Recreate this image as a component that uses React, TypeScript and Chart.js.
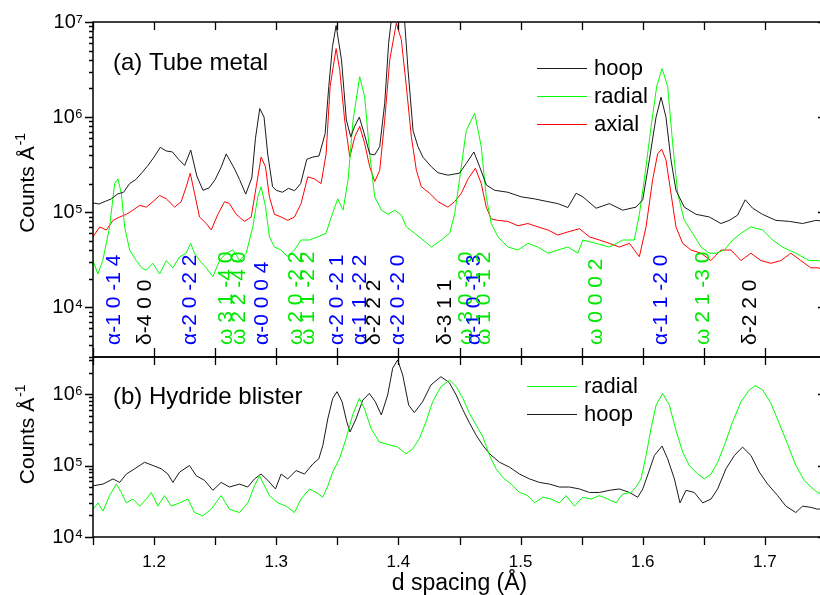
import React, { useEffect, useRef } from 'react';
import { Chart, registerables } from 'chart.js';

Chart.register(...registerables);

const FONT = '"Liberation Sans", Arial, Helvetica, sans-serif';
const C_HOOP = '#1a1a1a';
const C_RADIAL = '#00ff00';
const C_AXIAL = '#ff0000';

// ---------- (a) Tube metal ----------
const hoopA_d = [1.15,1.155,1.16,1.165,1.17,1.175,1.18,1.185,1.19,1.195,1.2,1.205,1.21,1.215,1.22,1.225,1.23,1.235,1.24,1.245,1.25,1.255,1.259,1.265,1.27,1.275,1.28,1.283,1.2865,1.29,1.293,1.297,1.3,1.305,1.31,1.315,1.32,1.325,1.33,1.335,1.34,1.343,1.346,1.349,1.3534,1.3574,1.361,1.364,1.368,1.372,1.3765,1.3806,1.3847,1.3888,1.392,1.3942,1.399,1.405,1.4079,1.412,1.416,1.42,1.427,1.4324,1.4405,1.45,1.4555,1.4618,1.4665,1.472,1.4787,1.4896,1.5005,1.5114,1.5224,1.5305,1.5387,1.5455,1.551,1.5618,1.5727,1.5836,1.5945,1.6,1.6054,1.6109,1.615,1.619,1.6231,1.6272,1.634,1.6436,1.6545,1.664,1.6708,1.6776,1.6839,1.69,1.698,1.709,1.72,1.7308,1.7417,1.75];
const hoopA_c = [1.25e5,1.22e5,1.3e5,1.38e5,1.55e5,1.62e5,2.0e5,2.2e5,2.6e5,3.1e5,3.8e5,4.8e5,4.4e5,4.3e5,3.6e5,3.1e5,4.5e5,2.4e5,1.7e5,1.8e5,2.2e5,3.0e5,4.1e5,3.0e5,2.2e5,1.55e5,2.3e5,6.0e5,1.23e6,1.0e6,4.1e5,1.85e5,1.7e5,1.62e5,1.78e5,1.68e5,2.0e5,3.6e5,3.8e5,3.9e5,6.7e5,2.1e6,5.5e6,9.2e6,4.0e6,9.3e5,6.2e5,7.9e5,1.0e6,6.7e5,4.1e5,4.0e5,4.9e5,1.4e6,6.0e6,1.05e7,2.0e7,1.05e7,3.1e6,7.2e5,4.9e5,3.8e5,3.0e5,2.6e5,2.45e5,2.57e5,3.25e5,4.3e5,3.0e5,1.93e5,1.7e5,1.62e5,1.45e5,1.38e5,1.29e5,1.23e5,1.12e5,1.58e5,1.45e5,1.1e5,1.23e5,1.05e5,1.13e5,1.35e5,3.55e5,1.0e6,1.62e6,1.0e6,3.55e5,1.7e5,1.13e5,9.5e4,8.9e4,7.6e4,8.2e4,9.3e4,1.35e5,1.1e5,9.5e4,8.2e4,8.0e4,7.6e4,8.2e4,8.0e4];

const radialA_d = [1.15,1.154,1.158,1.1636,1.1677,1.1704,1.1732,1.1759,1.18,1.1854,1.19,1.1936,1.199,1.2045,1.21,1.2154,1.2209,1.2263,1.2299,1.2331,1.2372,1.2427,1.2481,1.2536,1.259,1.2645,1.27,1.2754,1.2808,1.2849,1.2876,1.2912,1.2944,1.2985,1.304,1.3094,1.3149,1.3203,1.3272,1.334,1.3408,1.3441,1.3503,1.3547,1.3588,1.3629,1.3683,1.3724,1.3765,1.3806,1.3861,1.3915,1.397,1.4024,1.4065,1.4133,1.4201,1.427,1.4351,1.4419,1.446,1.45,1.4555,1.4624,1.4678,1.4719,1.476,1.4815,1.4896,1.4978,1.506,1.5142,1.5224,1.5305,1.5387,1.5469,1.5509,1.5618,1.5727,1.5836,1.5931,1.5972,1.6013,1.6068,1.6114,1.6158,1.6204,1.6245,1.6286,1.634,1.6408,1.6477,1.6545,1.66,1.6667,1.6736,1.6804,1.6885,1.6981,1.7063,1.7144,1.7253,1.7362,1.7439,1.75];
const radialA_c = [3.1e4,2.24e4,3.1e4,7.0e4,2.0e5,2.24e5,1.58e5,7.0e4,4.0e4,3.1e4,2.6e4,2.45e4,2.9e4,2.24e4,3.1e4,2.6e4,3.4e4,3.7e4,4.7e4,3.7e4,3.1e4,2.6e4,2.1e4,3.1e4,3.7e4,4.0e4,3.1e4,3.7e4,7.0e4,1.45e5,1.85e5,1.15e5,5.5e4,4.3e4,4.0e4,3.4e4,4.0e4,5.1e4,5.1e4,5.5e4,6.0e4,8.2e4,1.38e5,1.05e5,2.2e5,9.3e5,2.66e6,1.62e6,4.1e5,1.45e5,1.05e5,9.5e4,1.05e5,9.3e4,7.0e4,6.0e4,5.1e4,4.3e4,5.1e4,6.0e4,9.5e4,2.2e5,7.2e5,1.1e6,4.9e5,1.45e5,7.6e4,5.5e4,4.3e4,4.0e4,4.7e4,4.3e4,3.7e4,4.0e4,4.3e4,3.7e4,5.1e4,4.7e4,4.3e4,5.1e4,5.1e4,9.5e4,2.2e5,7.9e5,2.1e6,3.24e6,2.1e6,5.25e5,1.58e5,8.2e4,6.0e4,4.3e4,3.7e4,3.7e4,4.0e4,5.1e4,6.0e4,7.0e4,6.5e4,5.1e4,4.3e4,3.7e4,3.1e4,3.1e4,2.9e4];

const axialA_d = [1.15,1.1555,1.1609,1.1664,1.1718,1.1773,1.1827,1.1882,1.1936,1.1991,1.2045,1.21,1.2168,1.2222,1.2263,1.2296,1.2331,1.2372,1.2427,1.2468,1.2522,1.2577,1.2617,1.2672,1.274,1.2795,1.2836,1.2876,1.2912,1.2944,1.2985,1.304,1.3094,1.3149,1.3203,1.3258,1.3312,1.3367,1.3408,1.3441,1.349,1.352,1.356,1.3602,1.3643,1.3683,1.3724,1.3765,1.3806,1.3847,1.3888,1.3929,1.3983,1.4024,1.4065,1.4106,1.4147,1.4188,1.4256,1.4324,1.4405,1.446,1.4515,1.457,1.463,1.4678,1.4719,1.476,1.4815,1.4896,1.4978,1.506,1.5142,1.5224,1.5305,1.5387,1.5482,1.5564,1.5645,1.5727,1.5809,1.5891,1.5972,1.6027,1.6081,1.6122,1.6155,1.619,1.6231,1.6272,1.6327,1.6395,1.6477,1.6558,1.664,1.6722,1.6804,1.6885,1.6967,1.7049,1.7131,1.7212,1.7294,1.7376,1.7439,1.75];
const axialA_c = [5.5e4,7.0e4,6.5e4,8.2e4,8.9e4,9.5e4,1.05e5,1.18e5,1.13e5,1.29e5,1.5e5,1.38e5,1.13e5,1.29e5,1.85e5,2.57e5,1.58e5,8.9e4,7.6e4,6.5e4,9.5e4,1.29e5,1.23e5,9.5e4,8.0e4,8.9e4,1.85e5,3.8e5,3.0e5,1.45e5,9.5e4,8.9e4,8.2e4,8.9e4,1.23e5,2.35e5,2.24e5,2.0e5,4.1e5,2.1e6,5.25e6,3.1e6,9.3e5,3.8e5,6.2e5,8.0e5,5.25e5,3.0e5,2.1e5,2.75e5,9.3e5,4.0e6,9.7e6,6.5e6,2.1e6,6.2e5,2.75e5,1.85e5,1.58e5,1.29e5,1.13e5,1.29e5,1.58e5,2.24e5,2.9e5,2.0e5,1.13e5,8.5e4,8.2e4,8.0e4,7.2e4,7.6e4,7.0e4,6.5e4,5.75e4,6.2e4,6.7e4,5.5e4,5.1e4,4.7e4,4.3e4,4.7e4,3.4e4,7.0e4,2.2e5,4.1e5,4.6e5,3.55e5,1.58e5,7.0e4,4.7e4,4.0e4,3.7e4,3.1e4,4.0e4,4.0e4,3.1e4,3.7e4,3.1e4,2.9e4,3.1e4,3.7e4,3.1e4,2.6e4,2.6e4,2.4e4];

// ---------- (b) Hydride blister ----------
const radialB_d = [1.15,1.1541,1.1582,1.1636,1.1691,1.1732,1.1773,1.1827,1.1882,1.1936,1.1977,1.2031,1.2086,1.214,1.2209,1.2277,1.2331,1.2399,1.2468,1.2549,1.2617,1.2699,1.2767,1.2822,1.2863,1.2904,1.2944,1.3013,1.3081,1.3149,1.3203,1.3272,1.3326,1.3381,1.3422,1.3462,1.3517,1.3571,1.3626,1.368,1.3721,1.3776,1.3844,1.3926,1.3994,1.4062,1.4117,1.4171,1.4226,1.428,1.4348,1.4419,1.4473,1.4528,1.4583,1.4637,1.4692,1.4746,1.48,1.4855,1.4923,1.4991,1.5059,1.5114,1.5182,1.525,1.5318,1.5373,1.5441,1.5509,1.5577,1.5645,1.5714,1.5782,1.5836,1.5904,1.5945,1.5986,1.6027,1.6068,1.6109,1.6163,1.6218,1.6272,1.6327,1.6381,1.645,1.6504,1.6559,1.6613,1.6668,1.6736,1.6804,1.6872,1.6921,1.6981,1.7049,1.7117,1.7185,1.7253,1.7322,1.7376,1.743,1.75];
const radialB_c = [2.45e4,3.0e4,2.3e4,3.8e4,5.5e4,4.2e4,3.0e4,3.4e4,2.7e4,3.4e4,4.2e4,2.7e4,3.8e4,2.7e4,3.0e4,3.4e4,2.2e4,1.98e4,2.45e4,3.8e4,2.45e4,2.2e4,3.0e4,5.2e4,7.2e4,5.2e4,3.8e4,3.0e4,2.7e4,2.2e4,3.4e4,4.7e4,4.2e4,3.6e4,5.2e4,8.1e4,1.24e5,2.37e5,5.1e5,8.7e5,6.3e5,3.3e5,2.13e5,1.95e5,1.81e5,1.46e5,1.71e5,2.37e5,4.1e5,7.8e5,1.27e6,1.57e6,1.27e6,8.7e5,5.3e5,3.66e5,2.5e5,1.38e5,9.0e4,6.8e4,5.5e4,4.2e4,3.8e4,3.0e4,3.6e4,3.4e4,3.0e4,3.8e4,2.7e4,3.6e4,3.4e4,3.8e4,3.4e4,3.0e4,4.0e4,4.2e4,5.0e4,6.5e4,1.38e5,3.3e5,7.0e5,1.02e6,7.0e5,3.1e5,1.54e5,1.0e5,7.6e4,6.5e4,7.6e4,1.11e5,1.91e5,4.1e5,7.8e5,1.14e6,1.31e6,1.14e6,7.4e5,3.9e5,2.0e5,1.0e5,6.2e4,5.0e4,4.2e4,3.8e4];

const hoopB_d = [1.15,1.1582,1.1664,1.1718,1.1773,1.1841,1.1922,1.1991,1.2059,1.2113,1.2154,1.2209,1.229,1.2345,1.2413,1.2481,1.2549,1.2617,1.2699,1.2767,1.2822,1.2876,1.2931,1.2994,1.304,1.3094,1.3163,1.3231,1.3299,1.3348,1.3381,1.3422,1.3462,1.3498,1.3539,1.3577,1.3604,1.3653,1.3708,1.3762,1.3811,1.386,1.3912,1.3953,1.3994,1.4035,1.4084,1.413,1.4198,1.4266,1.4348,1.4416,1.4473,1.4528,1.4583,1.4637,1.4692,1.4746,1.4828,1.4909,1.4991,1.5073,1.5155,1.5237,1.5318,1.54,1.5482,1.5564,1.5645,1.5727,1.5809,1.5891,1.5959,1.6,1.6049,1.6095,1.6158,1.6204,1.6259,1.6305,1.6354,1.6422,1.6491,1.6559,1.6613,1.6681,1.675,1.6817,1.6886,1.6954,1.7022,1.7104,1.7172,1.7253,1.7308,1.7376,1.743,1.75];
const hoopB_c = [5.2e4,5.5e4,6.5e4,5.8e4,7.6e4,9.0e4,1.11e5,1.0e5,9.0e4,7.6e4,5.8e4,8.1e4,1.0e5,7.2e4,6.2e4,4.5e4,5.8e4,5.0e4,5.5e4,5.0e4,6.5e4,7.6e4,6.2e4,4.7e4,7.6e4,6.5e4,8.5e4,7.6e4,1.05e5,1.24e5,1.9e5,4.5e5,8.7e5,1.08e6,7.8e5,4.1e5,2.95e5,4.5e5,8.2e5,1.02e6,7.8e5,5.1e5,9.7e5,2.3e6,3.0e6,1.85e6,7.0e5,5.5e5,7.8e5,1.34e6,1.75e6,1.45e6,9.7e5,6.0e5,3.9e5,2.65e5,1.9e5,1.46e5,1.11e5,9.5e4,7.6e4,6.5e4,5.8e4,5.5e4,5.0e4,5.0e4,4.7e4,4.2e4,4.2e4,4.5e4,4.7e4,4.2e4,3.6e4,4.7e4,8.1e4,1.38e5,1.87e5,1.24e5,6.5e4,3.0e4,4.5e4,4.2e4,3.0e4,3.4e4,4.7e4,9.0e4,1.38e5,1.81e5,1.38e5,8.1e4,5.5e4,3.8e4,2.7e4,2.2e4,2.7e4,2.6e4,2.45e4,2.5e4];

// ---------- reflection labels (panel a) ----------
const reflLabels = ['α-1 0 -1 4','δ-4 0 0','α-2 0 -2 2','ω 3 1 -4 0','ω 2 2 -4 0','α-0 0 0 4','ω 2 0 -2 2','ω 1 1 -2 2','α-2 0 -2 1','α-1 1 -2 2','δ-2 2 2','α-2 0 -2 0','δ-3 1 1','ω 3 0 -3 0','α-1 0 -1 3','ω 1 0 -1 2','ω 0 0 0 2','α-1 1 -2 0','ω 2 1 -3 0','δ-2 2 0'];
const reflD = [1.1677,1.1928,1.2296,1.259,1.27,1.2882,1.3163,1.3258,1.3503,1.3689,1.38,1.4002,1.4384,1.4555,1.4623,1.4705,1.5619,1.615,1.6496,1.6878];

const legendA = ['hoop','radial','axial'];
const legendB = ['radial','hoop'];

const SUP: Record<string, string> = { '0':'⁰','1':'¹','2':'²','3':'³','4':'⁴','5':'⁵','6':'⁶','7':'⁷','8':'⁸','9':'⁹','-':'⁻' };
function logLabel(v: number): string {
  const e = Math.log10(v);
  const r = Math.round(e);
  if (Math.abs(e - r) < 1e-6) return '10' + String(r).split('').map((c) => SUP[c]).join('');
  return '';
}

function phaseColor(t: string): string {
  if (t.startsWith('α')) return '#0000ff';
  if (t.startsWith('ω')) return '#00e800';
  return '#000000';
}
function seriesColor(name: string): string {
  return name === 'hoop' ? C_HOOP : name === 'radial' ? C_RADIAL : C_AXIAL;
}

function toPts(d: number[], c: number[]) {
  return d.map((x, i) => ({ x, y: c[i] }));
}
function ds(label: string, d: number[], c: number[]) {
  return {
    label,
    data: toPts(d, c),
    borderColor: seriesColor(label),
    borderWidth: 1,
    pointRadius: 0,
    fill: false,
    tension: 0,
  };
}

const overlayPlugin = {
  id: 'overlay',
  afterDraw(chart: any, _args: any, o: any) {
    const { ctx, chartArea: a } = chart;
    const xs = chart.scales.x;
    const ys = chart.scales.y;
    ctx.save();
    ctx.strokeStyle = '#000';
    ctx.lineWidth = 1.5;
    ctx.strokeRect(a.left, a.top, a.right - a.left, a.bottom - a.top);
    ctx.lineWidth = 1.3;
    ctx.beginPath();
    for (let i = 0; i < 40; i++) {
      const v = xs.min + i * 0.05;
      if (v > xs.max + 1e-9) break;
      const px = Math.round(xs.getPixelForValue(v)) + 0.5;
      ctx.moveTo(px, a.top);
      ctx.lineTo(px, a.top + 8);
      if (o.bottomOut) {
        ctx.moveTo(px, a.bottom);
        ctx.lineTo(px, a.bottom + 8);
      } else {
        ctx.moveTo(px, a.bottom);
        ctx.lineTo(px, a.bottom - 9);
      }
    }
    const e0 = Math.floor(Math.log10(ys.min));
    const e1 = Math.ceil(Math.log10(ys.max));
    for (let e = e0; e <= e1; e++) {
      for (let m = 1; m <= 9; m++) {
        const v = m * Math.pow(10, e);
        if (v < ys.min * 0.999 || v > ys.max * 1.001) continue;
        const py = Math.round(ys.getPixelForValue(v)) + 0.5;
        const len = m === 1 ? 8 : 4;
        ctx.moveTo(a.left - len, py);
        ctx.lineTo(a.left, py);
        ctx.moveTo(a.right, py);
        ctx.lineTo(a.right - len, py);
      }
    }
    ctx.stroke();

    const cy = (a.top + a.bottom) / 2 + (o.titleShift || 0);
    ctx.save();
    ctx.translate(34, cy);
    ctx.rotate(-Math.PI / 2);
    ctx.fillStyle = '#000';
    ctx.textBaseline = 'alphabetic';
    ctx.textAlign = 'left';
    ctx.font = `21px ${FONT}`;
    const base = 'Counts Å';
    const w1 = ctx.measureText(base).width;
    ctx.fillText(base, -w1 / 2, 0);
    ctx.font = `14px ${FONT}`;
    ctx.fillText('-1', w1 / 2 + 1, -9);
    ctx.restore();

    ctx.fillStyle = '#000';
    ctx.font = `24px ${FONT}`;
    ctx.textAlign = 'left';
    ctx.textBaseline = 'middle';
    ctx.fillText(o.panel, o.panelX, o.panelY);

    ctx.font = `22px ${FONT}`;
    o.legend.forEach((name: string, i: number) => {
      const y = o.legY + i * o.legGap;
      ctx.strokeStyle = seriesColor(name);
      ctx.lineWidth = 1;
      ctx.beginPath();
      ctx.moveTo(o.legX, Math.round(y) + 0.5);
      ctx.lineTo(o.legX + 50, Math.round(y) + 0.5);
      ctx.stroke();
      ctx.fillStyle = '#000';
      ctx.fillText(name, o.legX + 57, y + 1);
    });

    if (o.refl) {
      ctx.font = `21px ${FONT}`;
      ctx.textAlign = 'left';
      ctx.textBaseline = 'middle';
      reflLabels.forEach((t, i) => {
        const px = xs.getPixelForValue(reflD[i]);
        ctx.save();
        ctx.translate(px, o.reflY);
        ctx.rotate(-Math.PI / 2);
        ctx.fillStyle = phaseColor(t);
        ctx.fillText(t, 0, 0);
        ctx.restore();
      });
    }
    ctx.restore();
  },
};

function yScale(min: number, max: number) {
  return {
    type: 'logarithmic',
    min,
    max,
    grid: { display: false, drawTicks: false },
    border: { display: false },
    ticks: {
      autoSkip: false,
      padding: 10,
      color: '#000',
      font: { family: FONT, size: 20 },
      callback: (v: any) => logLabel(Number(v)),
    },
    afterFit: (s: any) => {
      s.width = 93;
      s.paddingTop = 0;
      s.paddingBottom = 0;
    },
  };
}

export default function App() {
  const topRef = useRef<HTMLCanvasElement>(null);
  const botRef = useRef<HTMLCanvasElement>(null);

  useEffect(() => {
    const top = new Chart(topRef.current as HTMLCanvasElement, {
      type: 'line',
      data: {
        datasets: [
          ds('hoop', hoopA_d, hoopA_c),
          ds('radial', radialA_d, radialA_c),
          ds('axial', axialA_d, axialA_c),
        ] as any,
      },
      options: {
        responsive: false,
        animation: false,
        devicePixelRatio: 1,
        layout: { padding: { left: 0, right: 14, top: 22, bottom: 3 } },
        plugins: {
          legend: { display: false },
          tooltip: { enabled: false },
          overlay: {
            panel: '(a) Tube metal', panelX: 113, panelY: 63,
            legend: legendA, legX: 537, legY: 68, legGap: 28,
            refl: true, reflY: 345, bottomOut: false, titleShift: 0,
          },
        } as any,
        scales: {
          x: { type: 'linear', display: false, min: 1.15, max: 1.75 },
          y: yScale(3000, 1e7) as any,
        },
      },
      plugins: [overlayPlugin],
    });

    const bot = new Chart(botRef.current as HTMLCanvasElement, {
      type: 'line',
      data: {
        datasets: [
          ds('radial', radialB_d, radialB_c),
          ds('hoop', hoopB_d, hoopB_c),
        ] as any,
      },
      options: {
        responsive: false,
        animation: false,
        devicePixelRatio: 1,
        layout: { padding: { left: 0, right: 14, top: 7, bottom: 0 } },
        plugins: {
          legend: { display: false },
          tooltip: { enabled: false },
          overlay: {
            panel: '(b) Hydride blister', panelX: 113, panelY: 47,
            legend: legendB, legX: 527, legY: 36, legGap: 28,
            refl: false, bottomOut: true, titleShift: -6,
          },
        } as any,
        scales: {
          x: {
            type: 'linear',
            min: 1.15,
            max: 1.75,
            grid: { display: false, drawTicks: false },
            border: { display: false },
            ticks: {
              stepSize: 0.05,
              autoSkip: false,
              maxRotation: 0,
              padding: 15,
              color: '#000',
              font: { family: FONT, size: 17 },
              callback: (v: any) => {
                const n = Number(v);
                return Math.abs(n * 10 - Math.round(n * 10)) < 1e-6 ? n.toFixed(1) : '';
              },
            },
            title: {
              display: true,
              text: 'd spacing (Å)',
              color: '#000',
              font: { family: FONT, size: 23, lineHeight: 1 },
              padding: { top: 0, bottom: 0 },
            },
            afterFit: (s: any) => {
              s.height = 58;
              s.paddingLeft = 0;
              s.paddingRight = 0;
            },
          } as any,
          y: yScale(1e4, 3.3e6) as any,
        },
      },
      plugins: [overlayPlugin],
    });

    return () => {
      top.destroy();
      bot.destroy();
    };
  }, []);

  return (
    <div style={{ position: 'fixed', left: 0, top: 0, width: 820, height: 595, overflow: 'hidden', background: '#fff' }}>
      <canvas ref={topRef} width={840} height={360} style={{ position: 'absolute', left: 0, top: 0, width: 840, height: 360 }} />
      <canvas ref={botRef} width={840} height={245} style={{ position: 'absolute', left: 0, top: 350, width: 840, height: 245 }} />
    </div>
  );
}
